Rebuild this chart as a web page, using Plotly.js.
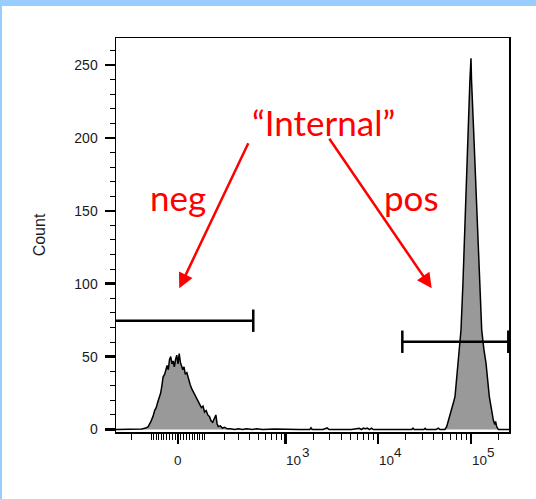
<!DOCTYPE html>
<html>
<head>
<meta charset="utf-8">
<script src="https://cdn.plot.ly/plotly-3.0.1.min.js"></script>
<style>
  html, body { margin:0; padding:0; background:#fff; }
  #wrap { position:relative; width:536px; height:499px; overflow:hidden; }
  #chart { position:absolute; left:0; top:0; width:536px; height:499px; }
  .bar { position:absolute; background:#99ccff; z-index:5; pointer-events:none; }
</style>
</head>
<body>
<div id="wrap">
  <div id="chart"></div>
  <div class="bar" style="left:0;top:0;width:536px;height:6px;"></div>
  <div class="bar" style="left:0;top:0;width:2px;height:499px;"></div>
</div>
<script>
// Display transform (biexponential-like): raw fluorescence -> display units
const T = v => Math.asinh(v / 140);

// Histogram, in display units (x) and counts (y)
const negX = [-1.6, -0.95, -0.90, -0.80, -0.74, -0.68, -0.62, -0.58, -0.54, -0.50, -0.47, -0.43, -0.40, -0.37, -0.33, -0.30, -0.27, -0.24, -0.21, -0.18, -0.15, -0.12, -0.09, -0.06, -0.03, 0.00, 0.03, 0.06, 0.09, 0.12, 0.15, 0.18, 0.22, 0.26, 0.30, 0.34, 0.38, 0.42, 0.46, 0.50, 0.54, 0.58, 0.62, 0.66, 0.70, 0.74, 0.78, 0.82, 0.86, 0.90, 0.94, 0.97, 1.00, 1.05, 1.10, 1.16, 1.22, 1.30, 1.40, 1.50, 1.60];
const negY = [0, 0, 0.3, 1, 2, 5, 9, 13, 15, 19, 21, 25, 30, 36, 38, 42, 44, 41, 48, 50, 45, 47, 43, 48, 51, 45, 52, 46, 44, 41, 43, 38, 39, 34, 31, 28, 26, 23, 22, 20, 17, 15, 16, 12, 13, 10, 9, 6, 5, 8, 10, 4, 2, 2.5, 1, 1.5, 0.5, 0.6, 0, 0.5, 0];
const midX = [1.7, 1.85, 1.95, 2.1, 2.4, 2.7, 3.0, 3.27, 3.3, 3.33, 3.6, 3.7, 3.75, 4.0, 4.3, 4.5, 4.55, 4.6, 4.65, 4.7, 4.75, 4.8, 4.85, 5.2, 5.8, 5.83, 5.86, 6.1, 6.13, 6.16, 6.4, 6.46, 6.5, 6.55];
const midY = [0.5, 0, 0.6, 0, 0.4, 0, 0, 0, 1.2, 0, 0, 1.2, 0, 0, 0, 0.8, 0, 1, 0.6, 1, 0, 1, 0, 0, 0, 1, 0, 0, 0.8, 0, 0, 1, 0, 0];
const posX = [6.62, 6.667, 6.69, 6.707, 6.73, 6.76, 6.80, 6.84, 6.873, 6.91, 6.955, 6.99, 7.022, 7.07, 7.112, 7.176, 7.199, 7.243, 7.27, 7.283, 7.335, 7.362, 7.434, 7.49, 7.536, 7.59, 7.643, 7.725, 7.78, 7.824, 7.86, 7.88, 7.908, 7.95, 8.3];
const posY = [0, 1.9, 4, 6.5, 8, 11, 14, 19, 22.5, 33, 45.4, 55, 68.2, 100, 136.8, 187, 205.4, 239.7, 254.6, 239.7, 205.4, 187, 136.8, 100, 68.2, 55, 45.4, 22.5, 12, 6.5, 3.5, 5.5, 1.9, 0, 0];

// Gates: [left, right] in display units, and count level
const negGateX = [-2.0, 1.868];
const negGateLevel = 74.6;
const posGateX = [5.566, 8.196];
const posGateLevel = 60.2;

// Axis ticks (raw values)
const xMajorRaw = [0, 1e3, 1e4, 1e5];
const xMajorBase = ['0', '10', '10', '10'];
const xMajorExp = ['', '3', '4', '5'];
const xMinorRaw = [-200, -100, -90, -80, -70, -60, -50, -40, -30, -20, -10, 10, 20, 30, 40, 50, 60, 70, 80, 90,
  100, 200, 300, 400, 500, 600, 700, 800, 900,
  2000, 3000, 4000, 5000, 6000, 7000, 8000, 9000,
  20000, 30000, 40000, 50000, 60000, 70000, 80000, 90000, 200000];
const yMajor = [0, 50, 100, 150, 200, 250];

const histX = negX.concat(midX, posX);
const histY = negY.concat(midY, posY);

const red = 'rgb(255,0,0)';
const traces = [
  { x: histX, y: histY, type: 'scatter', mode: 'lines', fill: 'tozeroy',
    fillcolor: '#999999', line: { color: '#000', width: 1.5, shape: 'linear' }, hoverinfo: 'skip' },
  { x: negGateX, y: [negGateLevel, negGateLevel], type: 'scatter', mode: 'lines+markers',
    line: { color: '#000', width: 2.5 }, marker: { symbol: 'line-ns-open', size: 16, color: '#000', line: { color: '#000', width: 2.5 } } },
  { x: posGateX, y: [posGateLevel, posGateLevel], type: 'scatter', mode: 'lines+markers',
    line: { color: '#000', width: 2.5 }, marker: { symbol: 'line-ns-open', size: 16, color: '#000', line: { color: '#000', width: 2.5 } } }
];

const FONT = 'Liberation Sans, Arial, sans-serif';
const xLabFont = { family: FONT, size: 13.5, color: '#1a1a1a' };
const annFont = { family: 'Lato, sans-serif', size: 35, color: red };

// x tick labels as annotations (base left-aligned at the tick, exponent raised beside it)
const xLabelAnns = [];
xMajorRaw.forEach((v, i) => {
  const hasExp = xMajorExp[i] !== '';
  xLabelAnns.push({
    x: T(v), xref: 'x', y: -0.094, yref: 'paper', yanchor: 'bottom',
    xanchor: hasExp ? 'left' : 'center', xshift: hasExp ? 0 : 0,
    text: xMajorBase[i], showarrow: false, font: xLabFont, borderpad: 0
  });
  if (hasExp) {
    xLabelAnns.push({
      x: T(v), xref: 'x', y: -0.094, yref: 'paper', yanchor: 'bottom',
      xanchor: 'left', xshift: 15.5, yshift: 8,
      text: xMajorExp[i], showarrow: false, font: xLabFont, borderpad: 0
    });
  }
});

const layout = {
  width: 536, height: 499,
  margin: { l: 116, r: 27, t: 38, b: 67, pad: 0 },
  paper_bgcolor: '#fff', plot_bgcolor: '#fff',
  showlegend: false,
  xaxis: {
    range: [-1.538, 8.213], showgrid: false, zeroline: false,
    showline: true, linecolor: '#000', linewidth: 1.5, mirror: true,
    tickmode: 'array', tickvals: xMajorRaw.map(T), showticklabels: false,
    ticks: 'outside', ticklen: 10, tickwidth: 2.5, tickcolor: '#000',
    minor: { tickmode: 'array', tickvals: xMinorRaw.map(T), ticks: 'outside', ticklen: 6, tickwidth: 1, tickcolor: '#000', showgrid: false }
  },
  yaxis: {
    range: [-1.7, 268.5], showgrid: false, zeroline: false,
    showline: true, linecolor: '#000', linewidth: 1.5, mirror: true,
    tickmode: 'array', tickvals: yMajor,
    ticks: 'outside', ticklen: 10, tickwidth: 2.5, tickcolor: '#000',
    ticklabelstandoff: 4,
    tickfont: { family: FONT, size: 14, color: '#1a1a1a' },
    minor: { dtick: 10, ticks: 'outside', ticklen: 5, tickwidth: 1, tickcolor: '#000', showgrid: false },
    title: { text: 'Count', font: { family: FONT, size: 16, color: '#1a1a1a' }, standoff: 24 }
  },
  annotations: xLabelAnns.concat([
    { x: 3.598, y: 211.1, xref: 'x', yref: 'y', text: '\u201CInternal\u201D', showarrow: false, font: annFont },
    { x: 0.0, y: 159.7, xref: 'x', yref: 'y', text: 'neg', showarrow: false, font: annFont },
    { x: 5.8, y: 159.7, xref: 'x', yref: 'y', text: 'pos', showarrow: false, font: annFont },
    { x: 0.032, y: 96.8, xref: 'x', yref: 'y', ax: 1.762, ay: 197.4, axref: 'x', ayref: 'y',
      text: '', showarrow: true, arrowhead: 2, arrowsize: 1.2, arrowwidth: 2.5, arrowcolor: red, standoff: 0 },
    { x: 6.295, y: 96.8, xref: 'x', yref: 'y', ax: 3.73, ay: 200.4, axref: 'x', ayref: 'y',
      text: '', showarrow: true, arrowhead: 2, arrowsize: 1.2, arrowwidth: 2.5, arrowcolor: red, standoff: 0 }
  ])
};

Plotly.newPlot('chart', traces, layout, { staticPlot: true, displayModeBar: false });
</script>
</body>
</html>
